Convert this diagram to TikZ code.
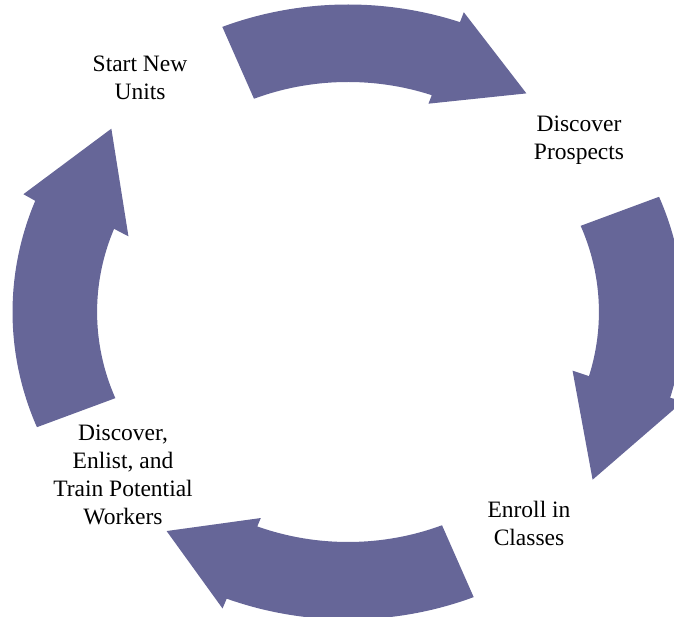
\documentclass[tikz,border=0pt]{standalone}
\usepackage{fontspec}
\setmainfont{Liberation Serif}
\definecolor{arrowfill}{RGB}{102,102,152}
\tikzset{
  cyclearrow/.style={fill=arrowfill, draw=none},
  label/.style={align=center, inner sep=0pt, font=\fontsize{23.5}{28}\selectfont}
}
\begin{document}
\begin{tikzpicture}[x=1pt,y=1pt]
\useasboundingbox (0,0) rectangle (674,617);
\clip (0,0) rectangle (674,617);
\begin{scope}[shift={(348,305)}, xscale=1.091]
  % top arrow
  \fill[cyclearrow] (112:307.5pt) arc[start angle=112, end angle=70.5, radius=307.5pt]
    -- (70.5:318pt) -- (53.2:273pt) -- (70.5:221pt) -- (70.5:230pt)
    arc[start angle=70.5, end angle=112, radius=230pt] -- cycle;
  % right arrow
  \fill[cyclearrow] (22:307.5pt) arc[start angle=22, end angle=-16.2, radius=307.5pt]
    -- (-16.2:320pt) -- (-36.8:280pt) -- (-15.9:214pt) -- (-16.2:230pt)
    arc[start angle=-16.2, end angle=22, radius=230pt] -- cycle;
  % bottom arrow
  \fill[cyclearrow] (-68:307.5pt) arc[start angle=-68, end angle=-111.2, radius=307.5pt]
    -- (-111.2:318pt) -- (-127.2:275pt) -- (-111.2:221pt) -- (-111.2:230pt)
    arc[start angle=-111.2, end angle=-68, radius=230pt] -- cycle;
  % left arrow
  \fill[cyclearrow] (-158:307.5pt) arc[start angle=-158, end angle=-201.2, radius=307.5pt]
    -- (-201.6:320pt) -- (-220.2:284pt) -- (-200.6:215pt) -- (-201.2:230pt)
    arc[start angle=-201.2, end angle=-158, radius=230pt] -- cycle;
\end{scope}
\node[label] (start) at (140,539) {Start New\\Units};
\node[label] (prospects) at (579,477) {Discover\\Prospects};
\node[label] (enroll) at (529,94) {Enroll in\\Classes};
\node[label] (workers) at (123,142) {Discover,\\Enlist, and\\Train Potential\\Workers};
\end{tikzpicture}
\end{document}
